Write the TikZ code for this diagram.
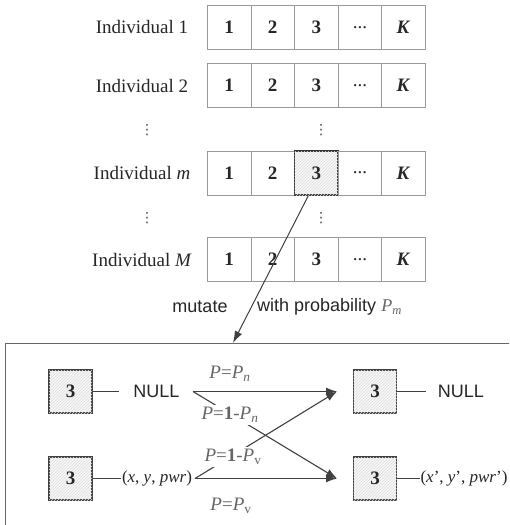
\documentclass[tikz,border=0pt]{standalone}
\usepackage{fontspec}
\setmainfont{Liberation Serif}
\setsansfont{Liberation Sans}
\newfontfamily\symfont{DejaVu Sans}
\usetikzlibrary{arrows.meta,patterns}
\newcommand{\prob}[2]{\textit{P}=#1\textit{P}\textsubscript{#2}}

\begin{document}
\begin{tikzpicture}[
  x=1pt, y=-1pt,
  font=\fontsize{19}{22}\selectfont, text=black!85,
  hatch/.style={fill=black!3, postaction={pattern=north east lines, pattern color=black!13}},
  gene/.style={draw=black!40, line width=0.7pt, minimum width=43.6pt, minimum height=44pt,
               inner sep=0pt, font=\fontsize{19}{21}\selectfont},
  genehit/.style={gene, draw=black!80, line width=1.5pt, hatch},
  sq/.style={draw=black!75, line width=1.3pt, minimum size=43pt, inner sep=0pt, hatch,
             font=\fontsize{19}{21}\selectfont\bfseries},
  sf/.style={font=\sffamily\fontsize{18}{21}\selectfont, inner sep=3pt},
  tup/.style={font=\fontsize{17}{20}\selectfont, inner sep=0.5pt},
  plab/.style={font=\fontsize{19}{21}\selectfont, text=black!60, inner sep=2pt},
  vdot/.style={font=\symfont\fontsize{14}{16}\selectfont, text=black!70},
  wire/.style={black!75, line width=1pt},
  ar/.style={wire, line width=1.1pt, -{Latex[length=11pt, width=8pt]}},
]
\useasboundingbox (0,0) rectangle (509,525);
\clip (0,0) rectangle (509,525);

% ---- population -----------------------------------------------------------
\foreach \r/\y/\lab/\hs in {1/27.5/{Individual 1}/gene, 2/85.5/{Individual 2}/gene,
    m/173/{Individual \textit{m}}/genehit, M/259.5/{Individual \textit{M}}/gene} {
  \node (ind-\r) at (142,\y) {\lab};
  \foreach \c/\t/\s in {1/\textbf{1}/gene, 2/\textbf{2}/gene, 3/\textbf{3}/\hs,
      4/{...}/gene, 5/\textbf{\textit{K}}/gene}
    \node[\s] (g-\r-\c) at (185.5+43.6*\c,\y) {\t};
}
\foreach \y [count=\i] in {130,218} {
  \node[vdot] (dl-\i) at (147,\y) {⋮};
  \node[vdot] (dc-\i) at (321,\y) {⋮};
}

% ---- mutation -------------------------------------------------------------
\node[draw=black!60, line width=0.9pt, anchor=north west, minimum width=520pt,
      minimum height=200pt] (mutbox) at (5,343) {};
\draw[wire, -{Latex[length=12pt, width=8pt]}] ([xshift=-8pt]g-m-3.south) -- ([xshift=-32.5pt]mutbox.north);
\node[sf] (mut) at (200,307) {mutate};
\node[sf, anchor=west] (withp) at (254,307)
  {with probability {\rmfamily\color{black!60}\textit{P}\textsubscript{\textit{m}}}};

% ---- gene states ----------------------------------------------------------
\node[sq] (s1) at (70.5,391.5) {3};
\node[sq] (s2) at (70.5,478.5) {3};
\node[sq] (s3) at (375,391.5) {3};
\node[sq] (s4) at (375,478.5) {3};
\node[sf] (n1) at (156.5,391.5) {NULL};
\node[sf] (n3) at (461,391.5) {NULL};
\node[tup] (t2) at (157,478.5) {(\textit{x}, \textit{y}, \textit{pwr})};
\node[tup] (t4) at (464,478.5) {(\textit{x}', \textit{y}', \textit{pwr}')};
\draw[wire, shorten >=11pt] (s1.east) -- (n1.west);
\draw[wire, shorten >=9pt] (s3.east) -- (n3.west);
\draw[wire] (s2.east) -- (t2.west);
\draw[wire] (s4.east) -- (t4.west);

\coordinate (o1) at (193,391.5);
\coordinate (o2) at (195,478.5);
\coordinate (e1) at (337,391.5);
\coordinate (e2) at (337,478.5);
\foreach \a/\b in {o1/e1, o1/e2, o2/e1, o2/e2} \draw[ar] (\a) -- (\b);

\node[plab] (p1) at (230,374) {\prob{}{\textit{n}}};
\node[plab, fill=white] (p2) at (230,415) {\prob{\textbf{1}-}{\textit{n}}};
\node[plab, fill=white] (p3) at (233,457) {\prob{\textbf{1}-}{v}};
\node[plab] (p4) at (231,506) {\prob{}{v}};

\end{tikzpicture}
\end{document}
